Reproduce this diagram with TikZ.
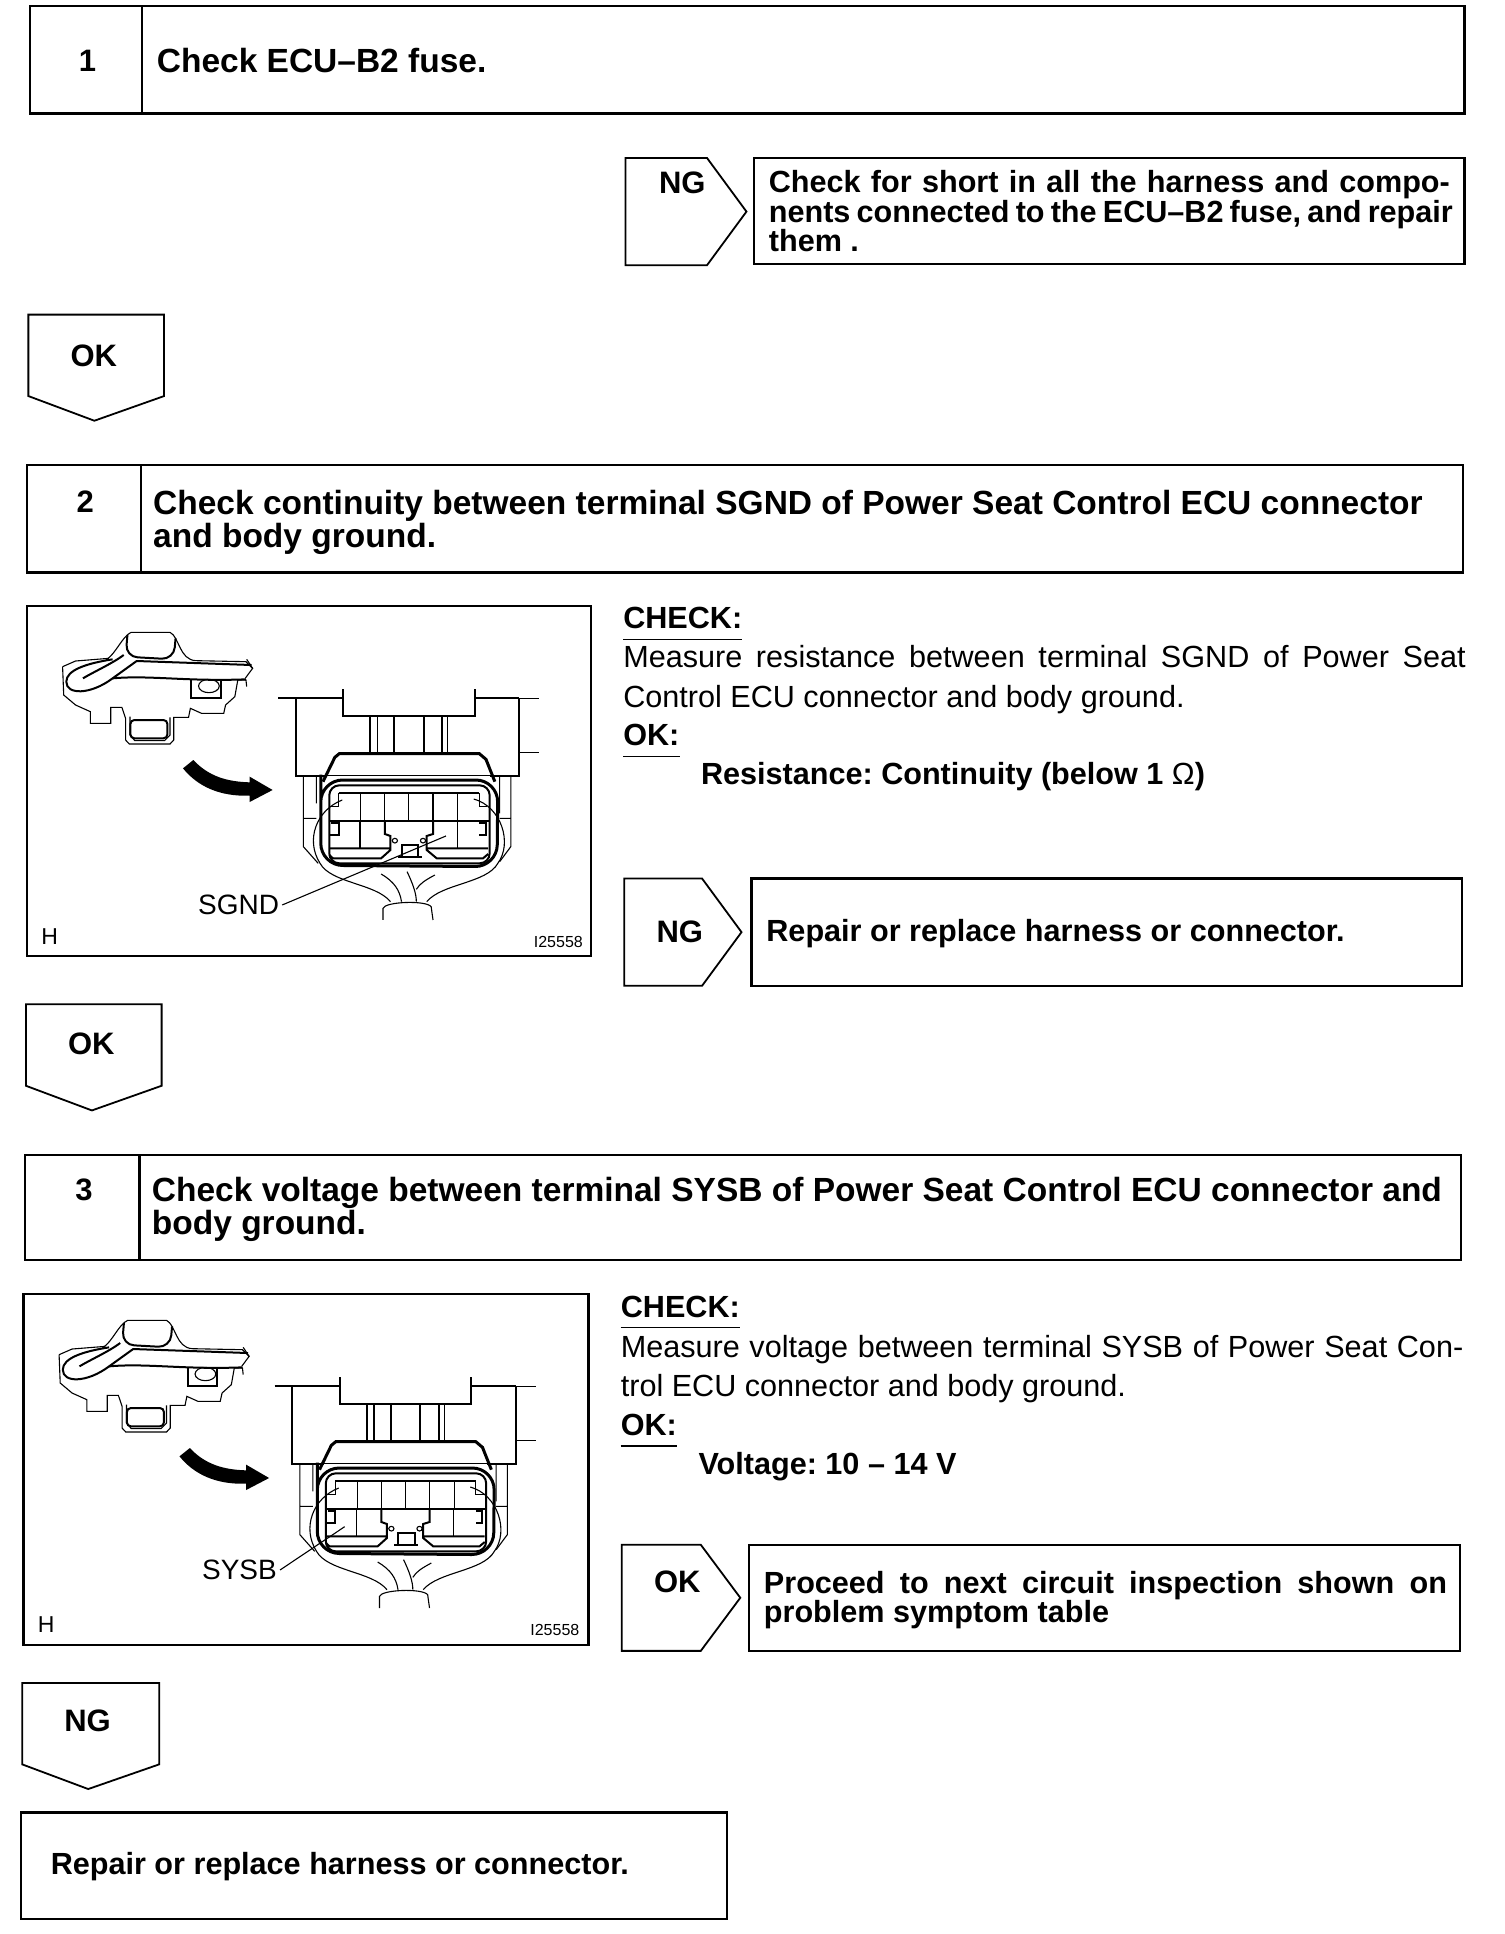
\documentclass[tikz,border=0pt]{standalone}
\usepackage{fontspec}
\setmainfont{Liberation Sans}
\frenchspacing
\newcommand{\justline}[2]{\makebox[#1][s]{#2}}
\newcommand{\connview}[5]{%
  \begin{scope}[xshift=#1pt,yshift=#2pt,x=0.3704pt,y=-0.3333pt]
    \draw[thinline] (115,200) -- (118,285) -- (150,315) -- (190,335) -- (190,370) -- (245,370) -- (245,322) -- (275,322) -- (285,355) -- (285,420) -- (295,432) -- (405,432) -- (415,420) -- (415,352) -- (455,352) -- (460,325) -- (490,340) -- (550,340) -- (555,315) -- (580,290) -- (588,240) -- (610,240) -- (612,260);
    \draw[thinline] (115,200) -- (150,183) -- (240,175);
    \draw[thinline] (232,180) .. controls (260,160) and (275,110) .. (300,97) -- (405,97) .. controls (430,110) and (430,180) .. (475,182) -- (610,185) -- (628,205) -- (608,235);
    \draw[thinline] (612,178) -- (628,205);
    \draw[thickline,rounded corners=12pt] (290,105) -- (285,170) -- (415,178) -- (420,115);
    \draw[thickline] (170,235) .. controls (200,215) and (250,190) .. (280,165);
    \draw[thickline] (250,178) .. controls (180,190) and (125,210) .. (125,245) .. controls (125,285) and (190,285) .. (250,235) -- (315,183) -- (625,195);
    \draw[thickline] (250,235) .. controls (350,225) and (450,245) .. (610,238);
    \draw[thickline] (462,238) -- (462,295) -- (542,295) -- (542,238);
    \draw[thinline] (510,258) ellipse (28 and 20);
    \draw[thickline,rounded corners=4pt] (298,360) rectangle (398,415);
    \draw[thinline] (297,350) -- (297,405) -- (310,422) -- (390,422) -- (405,405) -- (405,352);
    \fill (440,505) -- (468,480) .. controls (510,530) and (560,545) .. (620,547) -- (620,530) -- (682,570) -- (620,606) -- (620,587) .. controls (540,590) and (480,560) .. (440,505) -- cycle;
    \draw[thickline] (697,293) -- (872,293) (1228,295) -- (1348,295);
    \draw[thinline] (1348,295) -- (1402,295) (1348,458) -- (1402,458);
    \draw[thickline] (872,268) -- (872,347) -- (1228,347) -- (1228,268);
    \draw[thickline] (745,293) -- (745,527) -- (830,527) (1348,295) -- (1348,527) -- (1270,527);
    \foreach \colx in {945,1010,1090,1140} \draw[thickline] (\colx,347) -- (\colx,460);
    \foreach \colx in {965,1155} \draw[thinline] (\colx,347) -- (\colx,460);
    \draw[heavyline] (818,545) -- (850,472) -- (862,461) -- (1240,461) -- (1258,478) -- (1282,545);
    \draw[thinline] (830,527) -- (1270,527);
    \draw[heavyline,rounded corners=22pt] (812,590) -- (812,796) -- (1288,800) -- (1290,540) -- (812,540) -- cycle;
    \draw[thickline,rounded corners=10pt] (835,556) rectangle (1268,790);
    \draw[thickline] (860,580) -- (1240,580) (835,662) -- (1265,662);
    \foreach \colx in {920,985,1050,1115,1182} \draw[thinline] (\colx,580) -- (\colx,662);
    \draw[thinline] (918,662) -- (918,745) (1180,662) -- (1180,745);
    \draw[thinline] (860,580) -- (860,620) -- (840,620) (1240,580) -- (1240,620) -- (1262,620);
    \draw[thickline] (840,670) -- (860,670) -- (860,705) -- (838,705) (1240,670) -- (1258,670) -- (1258,705) -- (1240,705);
    \draw[thickline] (985,662) -- (985,702) -- (1000,708) -- (1000,750) -- (975,775) -- (845,775) -- (835,765) (835,745) -- (1000,745);
    \draw[thickline] (1115,662) -- (1115,702) -- (1098,708) -- (1098,750) -- (1125,775) -- (1250,775) -- (1264,762) (1098,745) -- (1264,745);
    \draw[thinline] (1012,722) circle (7 and 7) (1088,722) circle (7 and 7);
    \draw[thickline] (1030,735) rectangle (1075,770);
    \draw[thickline] (1020,770) -- (1085,770);
    \draw[thinline] (765,527) -- (765,740) -- (805,790) (800,527) -- (800,610) (765,655) -- (800,655);
    \draw[thinline] (1325,527) -- (1325,740) -- (1295,785) (1295,527) -- (1295,640) (1295,655) -- (1325,655);
    \draw[thinline] (870,600) .. controls (800,630) and (770,720) .. (810,790) .. controls (840,850) and (960,850) .. (1000,905);
    \draw[thinline] (1225,597) .. controls (1300,620) and (1330,730) .. (1290,790) .. controls (1260,850) and (1140,850) .. (1098,905);
    \draw[thinline] (980,960) -- (980,925) .. controls (985,905) and (1095,900) .. (1110,920) -- (1115,960);
    \draw[thinline] (975,822) .. controls (1010,845) and (1025,870) .. (1030,905);
    \draw[thinline] (1045,815) .. controls (1060,850) and (1070,880) .. (1070,905);
    \draw[thinline] (1120,825) .. controls (1095,840) and (1080,850) .. (1070,868);
    \coordinate (#3tip) at (#4);
    \node[picfont,anchor=center] (#3label) at (#5) {\MakeUppercase{#3}};
    \draw[thinline] ([xshift=3pt]#3label.east) -- (#3tip);
    \node[picfont,anchor=center,font=\fontsize{23}{23}\selectfont] (#3sheet) at (80,1010) {H};
    \node[picfont,anchor=east,font=\fontsize{16}{16}\selectfont] (#3code) at (1520,1027) {I25558};
  \end{scope}}

\begin{document}
\begin{tikzpicture}[
    x=1.2338pt,y=-1.2338pt,
    frame/.style={draw,line width=2.2pt},
    flagline/.style={draw,line width=1.8pt,line join=miter},
    thinline/.style={line width=1.1pt},
    thickline/.style={line width=2pt},
    heavyline/.style={line width=3pt},
    steptext/.style={font=\fontsize{33.5}{33}\selectfont\bfseries,inner sep=0pt,anchor=north west,align=left},
    boldtext/.style={font=\fontsize{30.6}{29.6}\selectfont\bfseries,inner sep=0pt,anchor=north west,align=left},
    flagtext/.style={font=\fontsize{31}{31}\selectfont\bfseries,inner sep=0pt,anchor=center},
    bodytext/.style={font=\fontsize{30.6}{39.5}\selectfont,inner sep=0pt,anchor=north west,align=left},
    picfont/.style={font=\fontsize{28}{28}\selectfont,inner sep=0pt}
  ]
  \useasboundingbox (0,0) rectangle (1219,1567.5);

  \foreach \ax/\ay/\bx/\by/\dx in {24/5/1187/92/115,22/377/1186/464/114,20/936/1184/1021/113}
    {\draw[frame] (\ax,\ay) rectangle (\bx,\by) (\dx,\ay) -- (\dx,\by);}
  \node[flagtext] (numone) at (71,49) {1};
  \node[steptext] (stepone) at (127,39) {Check ECU–B2 fuse.};
  \node[flagtext] (numtwo) at (69,407) {2};
  \node[steptext] (steptwo) at (124,397) {Check continuity between terminal SGND of Power Seat Control ECU connector\\and body ground.};
  \node[flagtext] (numthree) at (68,964) {3};
  \node[steptext] (stepthree) at (123,954) {Check voltage between terminal SYSB of Power Seat Control ECU connector and\\body ground.};

  \foreach \fx/\fy/\fw/\fh in {507/128/98/87,506/712/95/87,504/1252/96/86}
    {\draw[flagline] (\fx,\fy) -- ({\fx+\fw-32},\fy) -- ({\fx+\fw},{\fy+\fh/2}) -- ({\fx+\fw-32},{\fy+\fh}) -- (\fx,{\fy+\fh}) -- cycle;}
  \foreach \fx/\fy/\fw in {23/255/110,21/814/110,18/1364/111}
    {\draw[flagline] (\fx,\fy) -- ({\fx+\fw},\fy) -- ({\fx+\fw},{\fy+66}) -- ({\fx+53.5},{\fy+86}) -- (\fx,{\fy+66}) -- cycle;}
  \node[flagtext] (ngone) at (553,148) {NG};
  \node[flagtext] (okone) at (76,288) {OK};
  \node[flagtext] (ngtwo) at (551,755) {NG};
  \node[flagtext] (oktwo) at (74,846) {OK};
  \node[flagtext] (okthree) at (549,1282) {OK};
  \node[flagtext] (ngthree) at (71,1395) {NG};

  \foreach \ax/\ay/\bx/\by in {611/128/1187/214,609/712/1185/799,607/1252/1183/1338,17/1469/589/1555}
    {\draw[frame] (\ax,\ay) rectangle (\bx,\by);}
  \node[boldtext] (repairshort) at (623,138) {\justline{681pt}{Check for short in all the harness and compo-}\\\justline{684pt}{nents connected to the ECU–B2 fuse, and repair}\\them .};
  \node[boldtext] (repairone) at (621,745) {Repair or replace harness or connector.};
  \node[boldtext] (nextcheck) at (619,1273) {\justline{683pt}{Proceed to next circuit inspection shown on}\\problem symptom table};
  \node[boldtext] (repairtwo) at (41,1501) {Repair or replace harness or connector.};

  \foreach \ax/\ay/\bx/\by in {22/491/479/775,19/1049/477/1333}
    {\draw[frame] (\ax,\ay) rectangle (\bx,\by);}
  \connview{20}{-600}{sgnd}{1150,708}{590,915}
  \connview{16.5}{-1288}{sysb}{886,716}{602,846}

  \node[boldtext] (checka) at (505,492) {CHECK:};
  \draw[thinline] ([yshift=-10pt]checka.south west) -- ([yshift=-10pt]checka.south east);
  \node[bodytext] (measa) at (505,523) {\justline{842.5pt}{Measure resistance between terminal SGND of Power Seat}\\Control ECU connector and body ground.};
  \node[boldtext] (oka) at (505,587) {OK:};
  \draw[thinline] ([yshift=-10pt]oka.south west) -- ([yshift=-10pt]oka.south east);
  \node[boldtext] (resist) at (568,618) {Resistance: Continuity (below 1 {\mdseries Ω})};

  \node[boldtext] (checkb) at (503,1050) {CHECK:};
  \draw[thinline] ([yshift=-10pt]checkb.south west) -- ([yshift=-10pt]checkb.south east);
  \node[bodytext] (measb) at (503,1082) {\justline{842.5pt}{Measure voltage between terminal SYSB of Power Seat Con-}\\trol ECU connector and body ground.};
  \node[boldtext] (okb) at (503,1146) {OK:};
  \draw[thinline] ([yshift=-10pt]okb.south west) -- ([yshift=-10pt]okb.south east);
  \node[boldtext] (volt) at (566,1177) {Voltage: 10 – 14 V};
\end{tikzpicture}
\end{document}
